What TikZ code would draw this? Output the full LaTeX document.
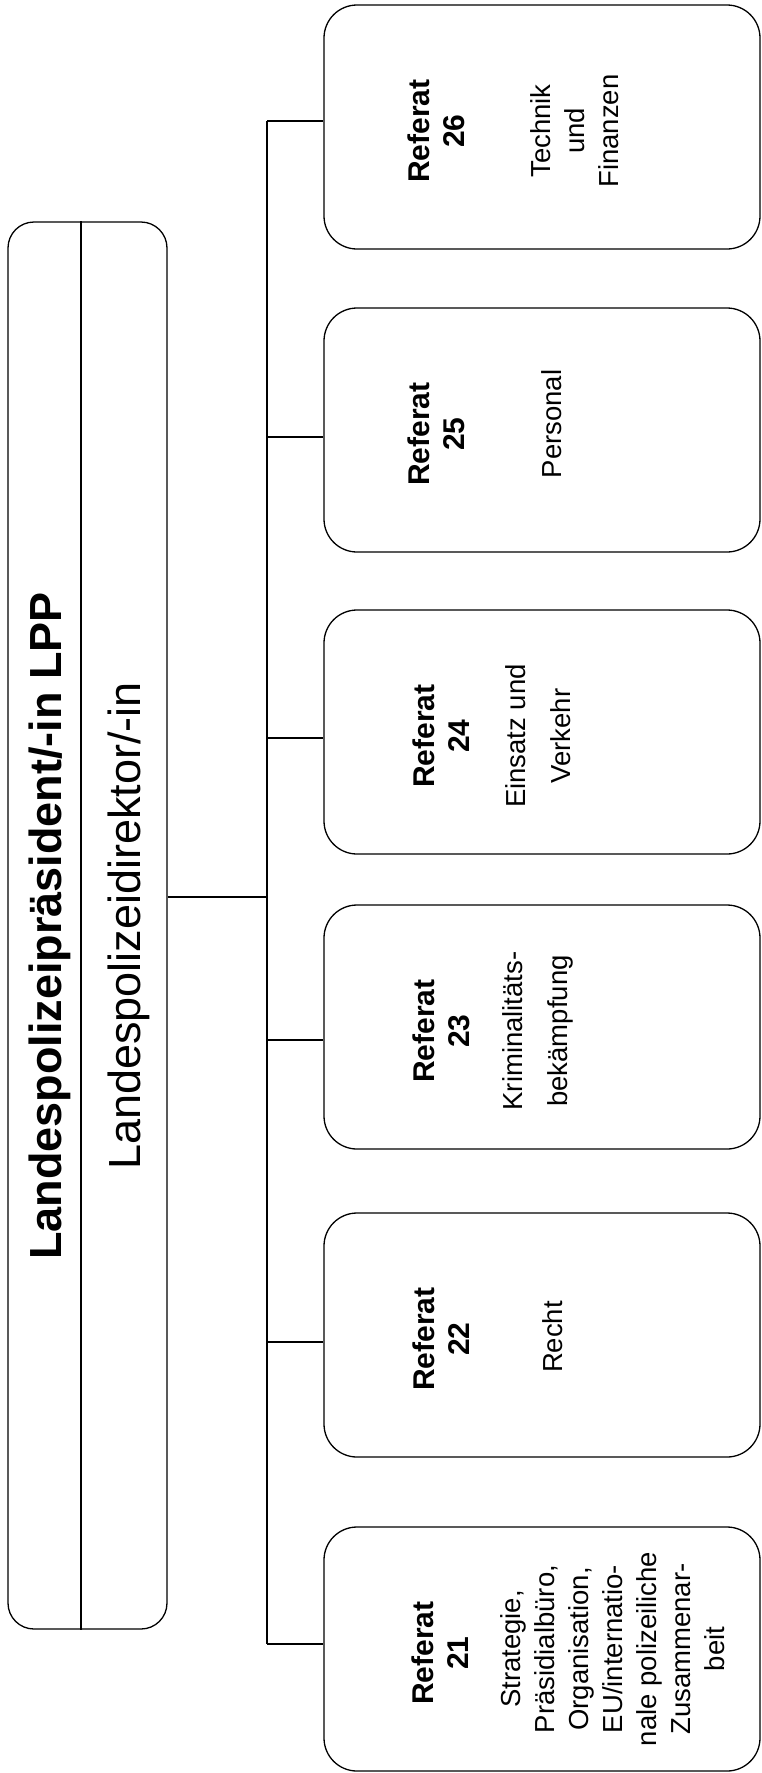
\documentclass[tikz,border=0pt]{standalone}
\usepackage{fontspec}
\setmainfont{Liberation Sans}
\begin{document}
\begin{tikzpicture}[x=1pt, y=-1pt, line width=1.3pt,
  referat/.style={draw, rounded corners=33pt, minimum width=436pt, minimum height=244pt},
  kopf/.style={rotate=90, align=center, inner sep=0pt, font=\bfseries\fontsize{30}{35}\selectfont},
  aufgabe/.style={rotate=90, align=center, inner sep=0pt, font=\fontsize{27.5}{34}\selectfont},
  aufgabeweit/.style={aufgabe, font=\fontsize{27.5}{45}\selectfont}]
\useasboundingbox (0,0) rectangle (761,1773);
% Leitung
\node (lpp) [draw, rounded corners=26pt, minimum width=159pt, minimum height=1407pt] at (87.5,925.5) {};
\coordinate (teil) at (81,0);
\draw (lpp.north -| teil) -- (lpp.south -| teil);
\node (lpptitel) [rotate=90, inner sep=0pt, font=\bfseries\fontsize{45}{54}\selectfont] at (50,926) {Landespolizeipräsident/-in LPP};
\node (lpd) [rotate=90, inner sep=0pt, font=\fontsize{45}{54}\selectfont] at (129,926) {Landespolizeidirektor/-in};
% Verteiler
\coordinate (oben) at (267,121);
\coordinate (unten) at (267,1644);
\coordinate (knoten) at (267,897);
\draw (oben) -- (unten);
\draw (lpp.east |- knoten) -- (knoten);
% Referate
\foreach \nr/\y/\a/\hx in {26/127/121/436, 25/430/437/436, 24/732/738/441, 23/1027/1040/441, 22/1335/1342/441, 21/1649/1644/440} {
  \node (r\nr) [referat] at (542,\y) {};
  \node (k\nr) [kopf] at (\hx,\y+4) {Referat\\\nr};
  \coordinate (a\nr) at (267,\a);
  \draw (a\nr) -- (a\nr -| r\nr.west);
}
\node (t26) [aufgabe] at (575,131) {Technik\\und\\Finanzen};
\node (t25) [aufgabe] at (552,424) {Personal};
\node (t24) [aufgabeweit] at (538,736) {Einsatz und\\Verkehr};
\node (t23) [aufgabeweit] at (538,1031) {Kriminalitäts-\\bekämpfung};
\node (t22) [aufgabe] at (553,1337) {Recht};
\node (t21) [aufgabe] at (613,1649) {Strategie,\\Präsidialbüro,\\Organisation,\\EU/internatio-\\nale polizeiliche\\Zusammenar-\\beit};
\end{tikzpicture}
\end{document}
